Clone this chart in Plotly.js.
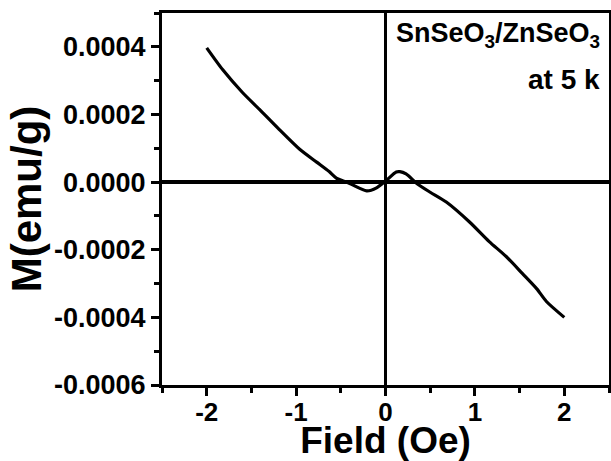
<!DOCTYPE html>
<html>
<head>
<meta charset="utf-8">
<script src="https://cdn.plot.ly/plotly-3.0.1.min.js"></script>
<style>html,body{margin:0;padding:0;background:#fff;}#chart{width:611px;height:461px;}</style>
</head>
<body>
<div id="chart"></div>
<script>
// Data
const field = [-2.0, -1.82, -1.6, -1.41, -1.19, -0.96, -0.77, -0.63, -0.55, -0.4, -0.21, -0.1, 0.0, 0.12, 0.16, 0.23, 0.35, 0.5, 0.68, 0.94, 1.16, 1.35, 1.53, 1.69, 1.8, 2.0];
const moment = [0.000397, 0.000332, 0.000265, 0.000215, 0.000156, 0.000097, 0.000059, 0.000031, 0.000012, -0.000004, -0.000026, -0.000017, 0.000003, 0.000030, 0.000031, 0.000024, -0.000004, -0.00003, -0.000059, -0.000118, -0.000176, -0.00022, -0.00027, -0.000315, -0.000353, -0.0004];

const xTickVals = [-2, -1, 0, 1, 2];
const xTickText = ['-2', '-1', '0', '1', '2'];
const yTickVals = [-0.0006, -0.0004, -0.0002, 0.0, 0.0002, 0.0004];
const yTickText = ['-0.0006', '-0.0004', '-0.0002', '0.0000', '0.0002', '0.0004'];

const fontFam = 'Arial, "Liberation Sans", sans-serif';

const trace = {
  x: field, y: moment, type: 'scatter', mode: 'lines',
  line: {color: '#000', width: 3.2, shape: 'spline', smoothing: 0.7},
  hoverinfo: 'skip'
};

const layout = {
  width: 611, height: 461,
  margin: {l: 162, r: 2, t: 13, b: 76, pad: 0},
  paper_bgcolor: '#fff', plot_bgcolor: '#fff',
  showlegend: false,
  font: {family: fontFam, color: '#000', weight: 'bold'},
  xaxis: {
    range: [-2.5, 2.5],
    tickmode: 'array', tickvals: xTickVals, ticktext: xTickText,
    ticks: 'outside', ticklen: 8, tickwidth: 3, tickcolor: '#000',
    ticklabelstandoff: -6,
    minor: {tickmode: 'linear', tick0: 0, dtick: 0.5, ticks: 'outside', ticklen: 5, tickwidth: 3, tickcolor: '#000', showgrid: false},
    showline: true, linecolor: '#000', linewidth: 3, mirror: true,
    showgrid: false,
    zeroline: true, zerolinecolor: '#000', zerolinewidth: 3.5,
    tickfont: {family: fontFam, size: 26, color: '#000', weight: 'bold'},
    title: {text: 'Field (Oe)', font: {family: fontFam, size: 37, color: '#000', weight: 'bold'}, standoff: 2}
  },
  yaxis: {
    range: [-0.0006, 0.0005],
    tickmode: 'array', tickvals: yTickVals, ticktext: yTickText,
    ticks: 'outside', ticklen: 8, tickwidth: 3, tickcolor: '#000',
    minor: {tickmode: 'linear', tick0: 0, dtick: 0.0001, ticks: 'outside', ticklen: 5, tickwidth: 3, tickcolor: '#000', showgrid: false},
    showline: true, linecolor: '#000', linewidth: 3, mirror: true,
    showgrid: false,
    zeroline: true, zerolinecolor: '#000', zerolinewidth: 3.5,
    tickfont: {family: fontFam, size: 27, color: '#000', weight: 'bold'},
    title: {text: 'M(emu/g)', font: {family: fontFam, size: 42, color: '#000', weight: 'bold'}, standoff: 0}
  },
  annotations: [
    {xref: 'paper', yref: 'paper', x: 0.985, y: 0.94, xanchor: 'right', yanchor: 'middle', showarrow: false,
     text: 'SnSeO<sub>3</sub>/ZnSeO<sub>3</sub>', font: {family: fontFam, size: 27, color: '#000', weight: 'bold'}},
    {xref: 'paper', yref: 'paper', x: 0.985, y: 0.82, xanchor: 'right', yanchor: 'middle', showarrow: false,
     text: 'at 5 k', font: {family: fontFam, size: 28, color: '#000', weight: 'bold'}}
  ]
};

Plotly.newPlot('chart', [trace], layout, {staticPlot: true, displayModeBar: false});
</script>
</body>
</html>
